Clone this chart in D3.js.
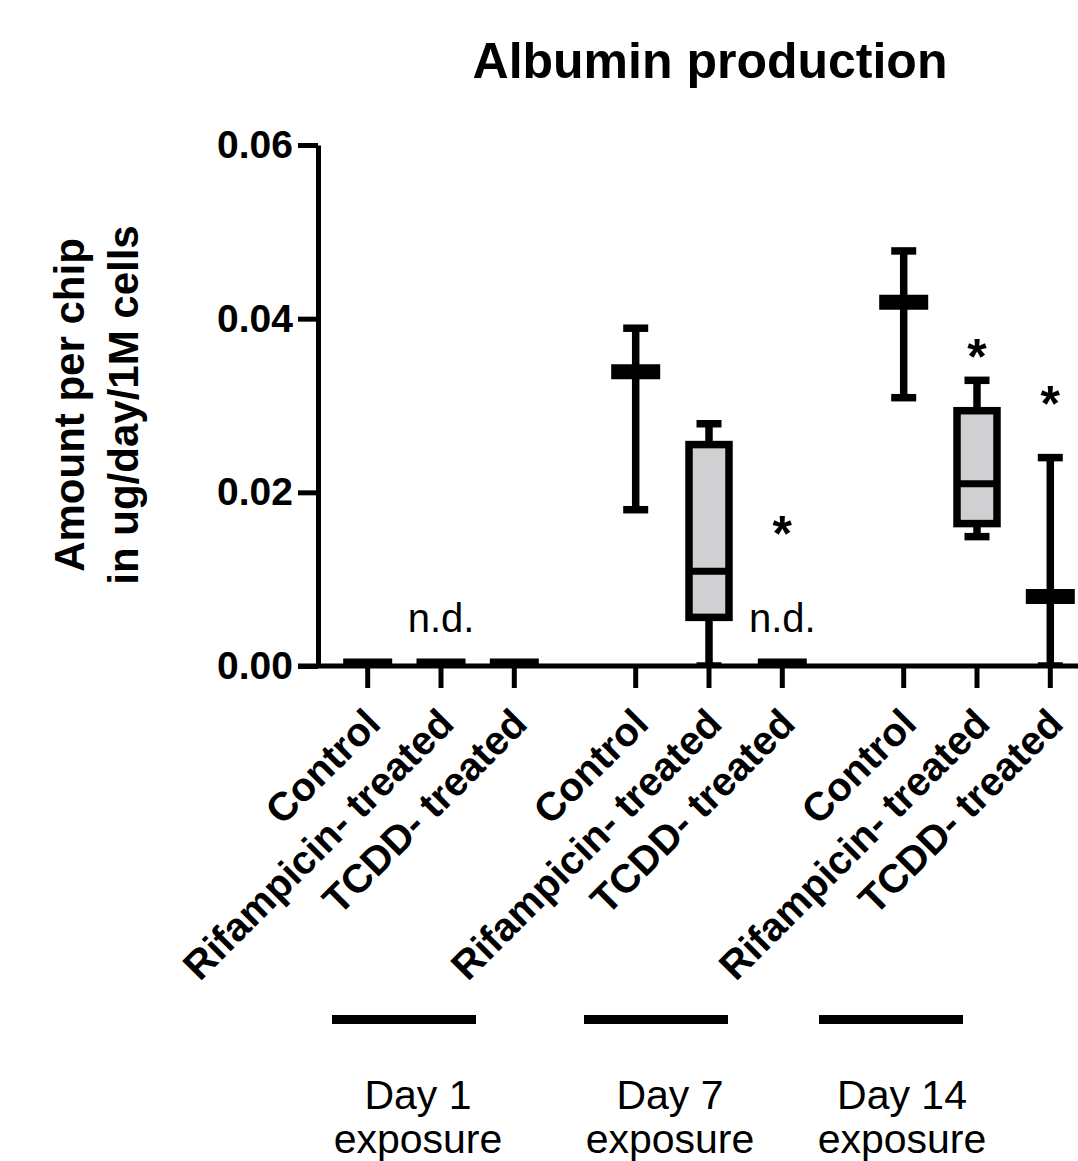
<!DOCTYPE html>
<html>
<head>
<meta charset="utf-8">
<script src="https://cdn.jsdelivr.net/npm/d3@7"></script>
<style>
  html, body { margin: 0; padding: 0; background: #fff; }
  svg { display: block; }
</style>
</head>
<body>
<div id="chart"></div>
<script>
// categories
const days = ["Day 1", "Day 7", "Day 14"];
const treatments = ["Control", "Rifampicin- treated", "TCDD- treated"];

// box values per day (order follows treatments)
const minVals = [
  [0, 0, 0],
  [0.0180, 0, 0],
  [0.0309, 0.0149, 0]
];
const q1Vals = [
  [0, 0, 0],
  [0.0339, 0.0056, 0],
  [0.0419, 0.0164, 0.0080]
];
const medianVals = [
  [0, 0, 0],
  [0.0339, 0.0109, 0],
  [0.0419, 0.0210, 0.0080]
];
const q3Vals = [
  [0, 0, 0],
  [0.0339, 0.0255, 0],
  [0.0419, 0.0294, 0.0080]
];
const maxVals = [
  [0, 0, 0],
  [0.0389, 0.0279, 0],
  [0.0478, 0.0329, 0.0240]
];

// annotations: [day index, treatment index, text, value]
const notes = [
  [0, 1, "n.d.", 0.0039],
  [1, 2, "n.d.", 0.0039],
  [1, 2, "*", 0.0163],
  [2, 1, "*", 0.0367],
  [2, 2, "*", 0.0313]
];

const yTicks = [0, 0.02, 0.04, 0.06];
const exposureLabels = ["exposure", "exposure", "exposure"];

const width = 1078, height = 1161;
const font = "'Liberation Sans', Arial, Helvetica, sans-serif";

const svg = d3.select("#chart").append("svg")
    .attr("width", width)
    .attr("height", height)
    .style("font-family", font);

// scales
const y = d3.scaleLinear().domain([0, 0.06]).range([666, 145]);
const xDay = d3.scalePoint().domain(days).range([441, 977]);
const xIn = d3.scalePoint().domain(treatments).range([-73.3, 73.3]);
const xPos = (di, ti) => xDay(days[di]) + xIn(treatments[ti]);

// flatten into rows
const rows = [];
days.forEach((day, di) => {
    treatments.forEach((t, ti) => {
        rows.push({
            di, ti, day, treatment: t,
            min: minVals[di][ti], q1: q1Vals[di][ti], median: medianVals[di][ti],
            q3: q3Vals[di][ti], max: maxVals[di][ti]
        });
    });
});

// title
svg.append("text")
    .attr("x", 710)
    .attr("y", 78)
    .attr("text-anchor", "middle")
    .style("font-size", "50px")
    .style("font-weight", "bold")
    .text("Albumin production");

// clip data at the x axis
svg.append("clipPath").attr("id", "plotClip")
  .append("rect")
    .attr("x", 320).attr("y", 0)
    .attr("width", width - 320).attr("height", y(0));

const plot = svg.append("g").attr("clip-path", "url(#plotClip)");

const boxHalf = 20, capHalf = 12.5, barHalf = 24.5;

// whiskers
plot.selectAll(".whisker")
    .data(rows)
    .join("line")
    .attr("class", "whisker")
    .attr("x1", d => xPos(d.di, d.ti))
    .attr("x2", d => xPos(d.di, d.ti))
    .attr("y1", d => y(d.min))
    .attr("y2", d => y(d.max))
    .attr("stroke", "#000")
    .attr("stroke-width", 7.5);

// caps
plot.selectAll(".cap")
    .data(rows.flatMap(d => [{ d, v: d.min }, { d, v: d.max }]))
    .join("line")
    .attr("class", "cap")
    .attr("x1", e => xPos(e.d.di, e.d.ti) - capHalf)
    .attr("x2", e => xPos(e.d.di, e.d.ti) + capHalf)
    .attr("y1", e => y(e.v))
    .attr("y2", e => y(e.v))
    .attr("stroke", "#000")
    .attr("stroke-width", 7.5);

// boxes
plot.selectAll(".box")
    .data(rows.filter(d => d.q3 > d.q1))
    .join("rect")
    .attr("class", "box")
    .attr("x", d => xPos(d.di, d.ti) - boxHalf)
    .attr("width", boxHalf * 2)
    .attr("y", d => y(d.q3))
    .attr("height", d => y(d.q1) - y(d.q3))
    .attr("fill", "#d0d0d2")
    .attr("stroke", "#000")
    .attr("stroke-width", 7.5);

// medians (thick bar when the box collapses)
plot.selectAll(".median")
    .data(rows)
    .join("line")
    .attr("class", "median")
    .attr("x1", d => xPos(d.di, d.ti) - (d.q3 > d.q1 ? boxHalf : barHalf))
    .attr("x2", d => xPos(d.di, d.ti) + (d.q3 > d.q1 ? boxHalf : barHalf))
    .attr("y1", d => y(d.median))
    .attr("y2", d => y(d.median))
    .attr("stroke", "#000")
    .attr("stroke-width", d => d.q3 > d.q1 ? 7 : 15);

// y axis
const yAxis = svg.append("g")
    .attr("transform", "translate(318,0)")
    .call(d3.axisLeft(y).tickValues(yTicks).tickFormat(d3.format(".2f"))
        .tickSize(20).tickSizeOuter(0).tickPadding(5));
yAxis.select(".domain").attr("stroke-width", 5);
yAxis.selectAll(".tick line").attr("stroke-width", 5);
yAxis.selectAll(".tick text")
    .style("font-family", font)
    .style("font-size", "39px")
    .style("font-weight", "bold")
    .attr("fill", "#000");

// x axis line and ticks
svg.append("line")
    .attr("x1", 298).attr("x2", width)
    .attr("y1", y(0)).attr("y2", y(0))
    .attr("stroke", "#000")
    .attr("stroke-width", 5);

svg.selectAll(".xtick")
    .data(rows)
    .join("line")
    .attr("class", "xtick")
    .attr("x1", d => xPos(d.di, d.ti))
    .attr("x2", d => xPos(d.di, d.ti))
    .attr("y1", y(0))
    .attr("y2", y(0) + 22)
    .attr("stroke", "#000")
    .attr("stroke-width", 5);

svg.selectAll(".xlabel")
    .data(rows)
    .join("text")
    .attr("class", "xlabel")
    .attr("text-anchor", "end")
    .attr("transform", d => `translate(${xPos(d.di, d.ti) + 15},${y(0) + 60}) rotate(-45)`)
    .style("font-size", "40px")
    .style("font-weight", "bold")
    .text(d => d.treatment);

// y axis title
const yTitle = ["Amount per chip", "in ug/day/1M cells"];
svg.selectAll(".ytitle")
    .data(yTitle)
    .join("text")
    .attr("class", "ytitle")
    .attr("text-anchor", "middle")
    .attr("transform", (d, i) => `translate(${84 + i * 54},405) rotate(-90)`)
    .style("font-size", "42px")
    .style("font-weight", "bold")
    .text(d => d);

// annotations
svg.selectAll(".note")
    .data(notes)
    .join("text")
    .attr("class", "note")
    .attr("x", d => xPos(d[0], d[1]))
    .attr("y", d => d[2] === "*" ? y(d[3]) + 27 : y(d[3]))
    .attr("text-anchor", "middle")
    .style("font-size", d => d[2] === "*" ? "50px" : "40px")
    .style("font-weight", d => d[2] === "*" ? "bold" : "normal")
    .text(d => d[2]);

// day brackets below the labels
const dayBarCenters = [404, 656, 891];
const dayTextCenters = [418, 670, 902];
svg.selectAll(".daybar")
    .data(days)
    .join("line")
    .attr("class", "daybar")
    .attr("x1", (d, i) => dayBarCenters[i] - 72)
    .attr("x2", (d, i) => dayBarCenters[i] + 72)
    .attr("y1", 1019.5).attr("y2", 1019.5)
    .attr("stroke", "#000")
    .attr("stroke-width", 9);

svg.selectAll(".daytext")
    .data(days)
    .join("text")
    .attr("class", "daytext")
    .attr("x", (d, i) => dayTextCenters[i])
    .attr("y", 1109)
    .attr("text-anchor", "middle")
    .style("font-size", "41px")
    .text(d => d);

svg.selectAll(".exptext")
    .data(exposureLabels)
    .join("text")
    .attr("class", "exptext")
    .attr("x", (d, i) => dayTextCenters[i])
    .attr("y", 1153)
    .attr("text-anchor", "middle")
    .style("font-size", "41px")
    .text(d => d);
</script>
</body>
</html>
